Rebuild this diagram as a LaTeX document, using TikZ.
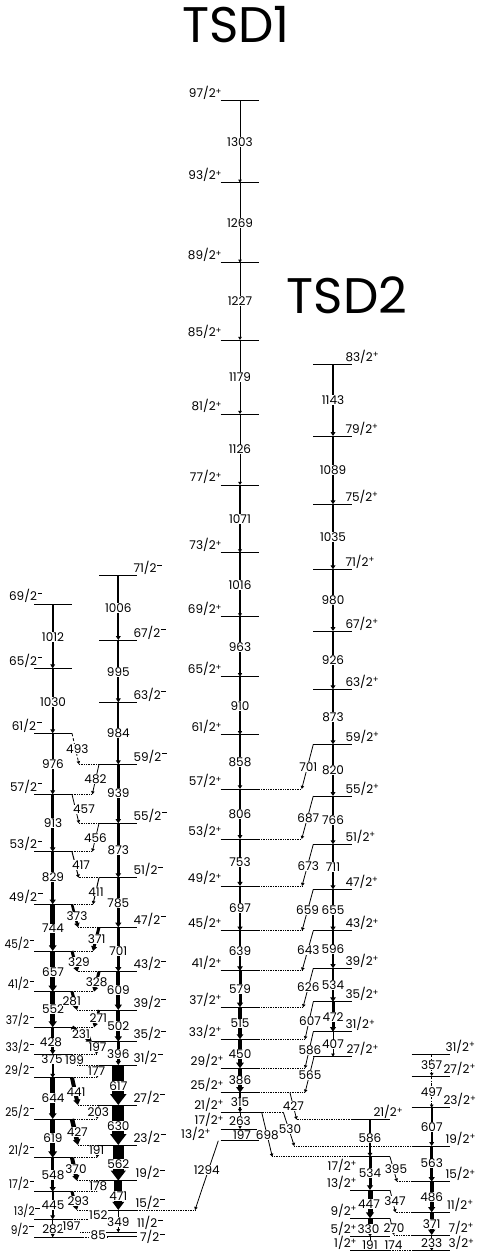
\documentclass[tikz,border=0pt]{standalone}
\usepackage{fontspec}
\setmainfont{Poppins}
\usepackage{graphicx}
\usetikzlibrary{arrows.meta}
\newcommand\Pl{\raisebox{3.6pt}{\fontsize{8.5}{8.5}\selectfont +}}
\newcommand\Mi{\hspace{0.6pt}\rule[7.2pt]{5pt}{0.8pt}}
\newcommand\cmp[1]{\scalebox{0.88}[1]{#1}}
\newcommand\lv[5]{\coordinate (#1) at (#2,#3); \draw[lev] (#4,#3) -- (#5,#3);}
\newcommand\ex[3]{\draw[ext] (#1,#3) -- (#2,#3);}
\newcommand\en[4]{\node[el] (#1) at (#2,#3) {#4};}
\begin{document}
\begin{tikzpicture}[x=1pt,y=-1pt,
  lev/.style={line width=0.8pt},
  ext/.style={line width=0.7pt, densely dotted},
  tr/.style={line width=#1, -{Triangle[length=2.5pt 0.7, width=2.5pt 1.1]}},
  el/.style={fill=white, inner sep=0.4pt, font=\fontsize{12}{12}\selectfont},
  sl/.style={inner sep=0.3pt, font=\fontsize{12}{12}\selectfont},
  ttl/.style={inner sep=0pt, font=\fontsize{50}{50}\selectfont}]
\useasboundingbox (0,0) rectangle (479,1252);
% ================= levels =================
% TSD1
\lv{T97}{240}{100.7}{220.7}{259.3}
\lv{T93}{240}{182.7}{220.7}{259.3}
\lv{T89}{240}{262.7}{220.7}{259.3}
\lv{T85}{240}{340}{220.7}{259.3}
\lv{T81}{240}{414}{220.7}{259.3}
\lv{T77}{240}{485}{220.7}{259.3}
\lv{T73}{240}{552.7}{220.7}{259.3}
\lv{T69}{240}{616.7}{220.7}{259.3}
\lv{T65}{240}{676.7}{220.7}{259.3}
\lv{T61}{240}{734.7}{220.7}{259.3}
\lv{T57}{240}{789}{220.7}{259.3}
\lv{T53}{240}{839}{220.7}{259.3}
\lv{T49}{240}{886}{220.7}{259.3}
\lv{T45}{240}{930.7}{220.7}{259.3}
\lv{T41}{240}{970.7}{220.7}{259.3}
\lv{T37}{240}{1007.3}{220.7}{259.3}
\lv{T33}{240}{1039.3}{220.7}{259.3}
\lv{T29}{240}{1068.3}{220.7}{259.3}
\lv{T25}{240}{1092.7}{220.7}{259.3}
\lv{T21}{240}{1112.3}{220.7}{261.7}
\lv{T17}{240}{1129}{220.7}{257}
\lv{T13}{240}{1140.7}{220.7}{259.3}
% TSD2
\lv{S83}{333}{364}{313.3}{351.7}
\lv{S79}{333}{436}{313.3}{351.7}
\lv{S75}{333}{504.3}{313.3}{351.7}
\lv{S71}{333}{569.3}{313.3}{351.7}
\lv{S67}{333}{631}{313.3}{351.7}
\lv{S63}{333}{689.3}{313.3}{351.7}
\lv{S59}{333}{744.3}{313.3}{351.7}
\lv{S55}{333}{796}{313.3}{351.7}
\lv{S51}{333}{844.3}{313.3}{351.7}
\lv{S47}{333}{889.3}{313.3}{351.7}
\lv{S43}{333}{930.7}{313.3}{351.7}
\lv{S39}{333}{968.3}{313.3}{351.7}
\lv{S35}{333}{1001.7}{313.3}{351.7}
\lv{S31}{333}{1031.7}{313.3}{351.7}
\lv{S27}{333}{1056.7}{313.3}{351.7}
% band R
\lv{R21}{370}{1119.5}{351.7}{390}
\lv{R17}{370}{1156.7}{350}{390}
\lv{R13}{370}{1190}{350}{390}
\lv{R9}{370}{1218.3}{350}{390}
\lv{R5}{370}{1236.5}{350}{390}
\lv{R1}{370}{1250.7}{350}{390}
% band F
\lv{F31}{431.7}{1054}{411.7}{450}
\lv{F27}{431.7}{1076}{411.7}{450}
\lv{F23}{431.7}{1107.7}{411.7}{450}
\lv{F19}{431.7}{1146}{411.7}{450}
\lv{F15}{431.7}{1181.7}{411.7}{450}
\lv{F11}{431.7}{1212.3}{411.7}{450}
\lv{F7}{431.7}{1235}{411.7}{450}
\lv{F3}{431.7}{1250.7}{411.7}{450}
% band A
\lv{A69}{52.7}{604}{34}{72}
\lv{A65}{52.7}{668.3}{34}{72}
\lv{A61}{52.7}{733.3}{34}{72}
\lv{A57}{52.7}{794.3}{34}{72}
\lv{A53}{52.7}{851.7}{34}{72}
\lv{A49}{52.7}{904.3}{34}{72}
\lv{A45}{52.7}{951}{34}{72}
\lv{A41}{52.7}{991.7}{34}{72}
\lv{A37}{52.7}{1027.3}{34}{72}
\lv{A33}{52.7}{1054.3}{34}{72}
\lv{A29}{52.7}{1077.7}{34}{72}
\lv{A25}{52.7}{1119}{34}{72}
\lv{A21}{52.7}{1157.7}{34}{72}
\lv{A17}{52.7}{1191.7}{34}{72}
\lv{A13}{52.7}{1219.3}{34}{72}
\lv{A9}{52.7}{1237.3}{34}{83}
% band B
\lv{B71}{118.3}{575.7}{99}{137}
\lv{B67}{118.3}{640}{99}{137}
\lv{B63}{118.3}{702.3}{99}{137}
\lv{B59}{118.3}{764.3}{99}{137}
\lv{B55}{118.3}{823.3}{99}{137}
\lv{B51}{118.3}{877.7}{99}{137}
\lv{B47}{118.3}{927.3}{99}{137}
\lv{B43}{118.3}{971.7}{99}{137}
\lv{B39}{118.3}{1010}{99}{137}
\lv{B35}{118.3}{1041.7}{92}{137}
\lv{B31}{118.3}{1065}{99}{137}
\lv{B27}{118.3}{1105}{99}{137}
\lv{B23}{118.3}{1145}{99}{137}
\lv{B19}{118.3}{1180.7}{99}{137}
\lv{B15}{118.3}{1210}{99}{137}
\lv{B11}{118.3}{1232.3}{107}{137}
\lv{B7}{118.3}{1236.7}{107}{137}
% ================= dotted extensions =================
\ex{259.3}{301.7}{789}
\ex{259.3}{301.7}{839}
\ex{259.3}{302}{886}
\ex{259.3}{302}{930.7}
\ex{259.3}{302}{970.7}
\ex{259.3}{303}{1007.3}
\ex{259.3}{305}{1039.3}
\ex{259.3}{305}{1068.3}
\ex{259.3}{305}{1092.7}
\ex{261.7}{283.3}{1112.3}
\ex{296.7}{351.7}{1119.5}
\ex{294.3}{411.7}{1146}
\ex{272.3}{350}{1156.7}
\ex{137}{195}{1210}
\ex{397}{411.7}{1181.7}
\ex{395.5}{411.7}{1212.3}
\ex{394}{411.7}{1235}
\ex{390}{411.7}{1250.7}
% A-B extensions
\ex{79}{99}{764.3}
\ex{72}{92.3}{794.3}
\ex{79}{99}{823.3}
\ex{72}{92.3}{851.7}
\ex{78.7}{99}{877.7}
\ex{72}{93}{904.3}
\ex{78}{99}{927.3}
\ex{72}{93}{951}
\ex{77.5}{99}{971.7}
\ex{72}{94}{991.7}
\ex{77}{99}{1010}
\ex{72}{94}{1027.3}
\ex{72}{96}{1054.3}
\ex{77}{99}{1065}
\ex{72}{97}{1077.7}
\ex{78}{99}{1105}
\ex{72}{97}{1119}
\ex{78}{99}{1145}
\ex{72}{97}{1157.7}
\ex{77}{99}{1180.7}
\ex{72}{97}{1191.7}
\ex{77}{99}{1210}
\ex{72}{97}{1219.3}
\ex{80}{107}{1232.3}
\ex{83}{107}{1236.9}
% ================= transitions =================
% TSD1
\draw[tr=0.8pt] (T97) -- (T93);
\draw[tr=0.8pt] (T93) -- (T89);
\draw[tr=0.9pt] (T89) -- (T85);
\draw[tr=1pt] (T85) -- (T81);
\draw[tr=1pt] (T81) -- (T77);
\draw[tr=1.2pt] (T77) -- (T73);
\draw[tr=1.2pt] (T73) -- (T69);
\draw[tr=1.4pt] (T69) -- (T65);
\draw[tr=1.5pt] (T65) -- (T61);
\draw[tr=1.6pt] (T61) -- (T57);
\draw[tr=1.8pt] (T57) -- (T53);
\draw[tr=2.2pt] (T53) -- (T49);
\draw[tr=2.4pt] (T49) -- (T45);
\draw[tr=2.8pt] (T45) -- (T41);
\draw[tr=3pt] (T41) -- (T37);
\draw[tr=3.5pt] (T37) -- (T33);
\draw[tr=4.5pt] (T33) -- (T29);
\draw[tr=4.5pt] (T29) -- (T25);
\draw[tr=1.2pt] (T25) -- (T21);
\draw[tr=0.8pt] (T21) -- (T17);
\draw[tr=0.6pt] (T17) -- (T13);
% TSD2
\draw[tr=2pt] (S83) -- (S79);
\draw[tr=2pt] (S79) -- (S75);
\draw[tr=2pt] (S75) -- (S71);
\draw[tr=2pt] (S71) -- (S67);
\draw[tr=2pt] (S67) -- (S63);
\draw[tr=2pt] (S63) -- (S59);
\draw[tr=2pt] (S59) -- (S55);
\draw[tr=2pt] (S55) -- (S51);
\draw[tr=2.2pt] (S51) -- (S47);
\draw[tr=2.4pt] (S47) -- (S43);
\draw[tr=2.4pt] (S43) -- (S39);
\draw[tr=2.6pt] (S39) -- (S35);
\draw[tr=3pt] (S35) -- (S31);
\draw[tr=1pt] (S31) -- (S27);
% TSD2 -> TSD1
\draw[tr=0.8pt] (313.3,744.3) -- (301.7,789);
\draw[tr=0.8pt] (313.3,796) -- (301.7,839);
\draw[tr=0.8pt] (313.3,844.3) -- (302,886);
\draw[tr=0.8pt] (313.3,889.3) -- (302,930.7);
\draw[tr=0.8pt] (313.3,930.7) -- (302,970.7);
\draw[tr=0.8pt] (313.3,968.3) -- (303,1007.3);
\draw[tr=0.8pt] (313.3,1001.7) -- (305,1039.3);
\draw[tr=0.8pt] (313.3,1031.7) -- (305,1068.3);
\draw[tr=0.8pt] (314,1056.7) -- (305,1092.7);
% TSD1 -> R, F, B
\draw[tr=0.8pt] (290,1092.7) -- (296.7,1119.5);
\draw[tr=0.8pt] (283.3,1112.3) -- (294.3,1146);
\draw[tr=0.8pt] (261.7,1112.3) -- (272.3,1156.7);
\draw[tr=0.8pt] (218.3,1140.7) -- (195,1210);
% R band
\draw[tr=1.8pt] (R21) -- (R17);
\draw[tr=3pt] (R17) -- (R13);
\draw[tr=5pt] (R13) -- (R9);
\draw[tr=5pt] (R9) -- (R5);
\draw[tr=0.8pt] (R5) -- (R1);
\draw[tr=0.8pt] (390,1156.7) -- (397,1181.7);
\draw[tr=0.8pt] (390,1190) -- (395.5,1212.3);
\draw[tr=0.8pt] (390,1218.3) -- (394,1235);
% F band
\draw[tr=0.8pt, dash pattern=on 3pt off 1.5pt on 0.8pt off 1.5pt] (F31) -- (F27);
\draw[tr=1pt, dash pattern=on 3pt off 1.5pt on 0.8pt off 1.5pt] (F27) -- (F23);
\draw[tr=2pt] (F23) -- (F19);
\draw[tr=3pt] (F19) -- (F15);
\draw[tr=4pt] (F15) -- (F11);
\draw[tr=4pt] (F11) -- (F7);
\draw[tr=1pt] (F7) -- (F3);
% band A
\draw[tr=2pt] (A69) -- (A65);
\draw[tr=2pt] (A65) -- (A61);
\draw[tr=2pt] (A61) -- (A57);
\draw[tr=2.5pt] (A57) -- (A53);
\draw[tr=3pt] (A53) -- (A49);
\draw[tr=4.5pt] (A49) -- (A45);
\draw[tr=5pt] (A45) -- (A41);
\draw[tr=5pt] (A41) -- (A37);
\draw[tr=2.5pt] (A37) -- (A33);
\draw[tr=2pt] (A33) -- (A29);
\draw[tr=4.5pt] (A29) -- (A25);
\draw[tr=5.5pt] (A25) -- (A21);
\draw[tr=3pt] (A21) -- (A17);
\draw[tr=2pt] (A17) -- (A13);
\draw[tr=1pt] (A13) -- (A9);
% band B
\draw[tr=2pt] (B71) -- (B67);
\draw[tr=2pt] (B67) -- (B63);
\draw[tr=2pt] (B63) -- (B59);
\draw[tr=2.5pt] (B59) -- (B55);
\draw[tr=2.5pt] (B55) -- (B51);
\draw[tr=3pt] (B51) -- (B47);
\draw[tr=3pt] (B47) -- (B43);
\draw[tr=4pt] (B43) -- (B39);
\draw[tr=4pt] (B39) -- (B35);
\draw[tr=2.5pt] (B35) -- (B31);
\draw[tr=12pt] (B31) -- (B27);
\draw[tr=12pt] (B27) -- (B23);
\draw[tr=11pt] (B23) -- (B19);
\draw[tr=8pt] (B19) -- (B15);
\draw[tr=1pt] (B15) -- (B11);
% A <-> B
\draw[tr=0.8pt, densely dashed] (72,733.3) -- (79,764.3);
\draw[tr=0.8pt] (99,764.3) -- (92.3,794.3);
\draw[tr=0.8pt] (72,794.3) -- (79,823.3);
\draw[tr=0.8pt] (99,823.3) -- (92.3,851.7);
\draw[tr=1pt] (72,851.7) -- (78.7,877.7);
\draw[tr=1pt] (99,877.7) -- (93,904.3);
\draw[tr=2.5pt] (72,904.3) -- (78,927.3);
\draw[tr=3pt] (99,927.3) -- (93,951);
\draw[tr=3pt] (72,951) -- (77.5,971.7);
\draw[tr=3pt] (99,971.7) -- (94,991.7);
\draw[tr=3pt] (72,991.7) -- (77,1010);
\draw[tr=2.5pt] (99,1010) -- (94,1027.3);
\draw[tr=4pt] (72,1027.3) -- (92,1041.7);
\draw[tr=0.8pt] (99,1041.7) -- (96,1054.3);
\draw[tr=0.8pt] (72,1054.3) -- (77,1065);
\draw[tr=0.8pt] (99,1065) -- (97,1077.7);
\draw[tr=4pt] (72,1077.7) -- (78,1105);
\draw[tr=0.8pt] (99,1105) -- (97,1119);
\draw[tr=4.5pt] (72,1119) -- (78,1145);
\draw[tr=0.8pt] (99,1145) -- (97,1157.7);
\draw[tr=4pt] (72,1157.7) -- (77,1180.7);
\draw[tr=0.8pt] (99,1180.7) -- (97,1191.7);
\draw[tr=3pt] (72,1191.7) -- (77,1210);
\draw[tr=0.8pt] (99,1210) -- (97,1219.3);
% ================= energy labels =================
\en{e1303}{240}{141.7}{1303}
\en{e1269}{240}{222.7}{1269}
\en{e1227}{240}{301.3}{1227}
\en{e1179}{240}{377}{1179}
\en{e1126}{240}{449.5}{1126}
\en{e1071}{240}{518.8}{1071}
\en{e1016}{240}{584.7}{1016}
\en{e963}{240}{646.7}{963}
\en{e910}{240}{705.7}{910}
\en{e858}{240}{761.8}{858}
\en{e806}{240}{814}{806}
\en{e753}{240}{862.5}{753}
\en{e697}{240}{908.3}{697}
\en{e639}{240}{950.7}{639}
\en{e579}{240}{989}{579}
\en{e515}{240}{1023.3}{515}
\en{e450}{240}{1053.8}{450}
\en{e386}{240}{1080.5}{386}
\en{e315}{240}{1102.5}{315}
\en{e263}{240}{1120.7}{263}
\en{e197t}{242}{1135}{197}
\en{e1143}{333}{400}{1143}
\en{e1089}{333}{470}{1089}
\en{e1035}{333}{536.8}{1035}
\en{e980}{333}{600.2}{980}
\en{e926}{333}{660.2}{926}
\en{e873s}{333}{716.8}{873}
\en{e820}{333}{770.2}{820}
\en{e766}{333}{820.2}{766}
\en{e711}{333}{866.8}{711}
\en{e655}{333}{910}{655}
\en{e596}{333}{949.5}{596}
\en{e534s}{333}{985}{534}
\en{e472}{333}{1016.7}{472}
\en{e407}{333}{1044.5}{407}
\en{e701s}{308.3}{766.7}{701}
\en{e687}{308.3}{818.3}{687}
\en{e673}{308.3}{865.7}{673}
\en{e659}{307.5}{910}{659}
\en{e643}{308.3}{950}{643}
\en{e626}{308.3}{987.3}{626}
\en{e607s}{310}{1021}{607}
\en{e586s}{310}{1050}{586}
\en{e565}{310}{1075}{565}
\en{e427t}{293.3}{1106}{427}
\en{e530}{290}{1129.3}{530}
\en{e698}{267.3}{1135}{698}
\en{e1294}{206.7}{1170}{1294}
\en{e586r}{370}{1138.3}{586}
\en{e534r}{370}{1173.3}{534}
\en{e447}{369}{1204}{447}
\en{e330}{368.5}{1229}{330}
\en{e191r}{370}{1245}{191}
\en{e395}{396}{1169}{395}
\en{e347}{395}{1201}{347}
\en{e270}{394}{1228.5}{270}
\en{e174}{393.5}{1245}{174}
\en{e357}{431.7}{1065}{357}
\en{e497}{431.7}{1092}{497}
\en{e607f}{431.7}{1127.3}{607}
\en{e563}{431.7}{1163.5}{563}
\en{e486}{431.7}{1197}{486}
\en{e371f}{431.7}{1223.7}{371}
\en{e233}{431.7}{1243}{233}
% A
\en{e1012}{53}{637}{1012}
\en{e1030}{53}{701.7}{1030}
\en{e976}{53}{764}{976}
\en{e913}{53}{823.3}{913}
\en{e829}{53}{876.7}{829}
\en{e744}{53}{928.3}{744}
\en{e657}{53}{971.7}{657}
\en{e552}{53}{1009.3}{552}
\en{e428a}{51}{1042.5}{428}
\en{e375}{52}{1059.5}{375}
\en{e644}{53}{1098.3}{644}
\en{e619}{53}{1138.3}{619}
\en{e548}{53}{1175}{548}
\en{e445}{53}{1205}{445}
\en{e282}{53}{1229.3}{282}
% B
\en{e1006}{118.3}{608.3}{1006}
\en{e995}{118.3}{671.7}{995}
\en{e984}{118.3}{733.3}{984}
\en{e939}{118.3}{793.3}{939}
\en{e873b}{118.3}{850}{873}
\en{e785}{118.3}{903.3}{785}
\en{e701b}{118.3}{950.7}{701}
\en{e609}{118.3}{990}{609}
\en{e502}{118.3}{1026}{502}
\en{e396}{118.3}{1054}{396}
\en{e617}{118.3}{1086}{617}
\en{e630}{118.3}{1126}{630}
\en{e562}{118.3}{1164}{562}
\en{e471}{118.3}{1196}{471}
\en{e349}{118.3}{1221.7}{349}
% A<->B
\en{e493}{77.3}{749}{493}
\en{e482}{95.5}{779.3}{482}
\en{e457}{84}{809.3}{457}
\en{e456}{95.5}{838.3}{456}
\en{e417}{81}{865}{417}
\en{e411}{96}{891.7}{411}
\en{e373}{77}{916.5}{373}
\en{e371b}{96.7}{939.3}{371}
\en{e329}{79}{961.7}{329}
\en{e328}{96.7}{981.7}{328}
\en{e281}{71.7}{1001.5}{281}
\en{e271}{98.3}{1018.3}{271}
\en{e231}{81}{1033.7}{231}
\en{e197b}{97.5}{1047.5}{197}
\en{e199}{74.5}{1060}{199}
\en{e177}{96.7}{1071.5}{177}
\en{e441}{76}{1091.7}{441}
\en{e203}{98.3}{1111.7}{203}
\en{e427b}{77.3}{1131.7}{427}
\en{e191b}{96.7}{1150.5}{191}
\en{e370}{76}{1169}{370}
\en{e178}{98.3}{1186.5}{178}
\en{e293}{78.3}{1201}{293}
\en{e152}{98.3}{1214.8}{152}
\en{e197c}{71.5}{1226}{197}
\en{e85}{98.3}{1235.5}{85}
% ================= spin labels =================
\node[sl,anchor=south east] (sT97) at (222,100.2) {97/2\Pl};
\node[sl,anchor=south east] (sT93) at (222,182.2) {93/2\Pl};
\node[sl,anchor=south east] (sT89) at (222,262.2) {89/2\Pl};
\node[sl,anchor=south east] (sT85) at (222,339.5) {85/2\Pl};
\node[sl,anchor=south east] (sT81) at (222,413.5) {81/2\Pl};
\node[sl,anchor=south east] (sT77) at (222,484.5) {77/2\Pl};
\node[sl,anchor=south east] (sT73) at (222,552.2) {73/2\Pl};
\node[sl,anchor=south east] (sT69) at (222,616.2) {69/2\Pl};
\node[sl,anchor=south east] (sT65) at (222,676.2) {65/2\Pl};
\node[sl,anchor=south east] (sT61) at (222,734.2) {61/2\Pl};
\node[sl,anchor=south east] (sT57) at (222,788.5) {57/2\Pl};
\node[sl,anchor=south east] (sT53) at (222,838.5) {53/2\Pl};
\node[sl,anchor=south east] (sT49) at (222,885.5) {49/2\Pl};
\node[sl,anchor=south east] (sT45) at (222,930.2) {45/2\Pl};
\node[sl,anchor=south east] (sT41) at (222,970.2) {41/2\Pl};
\node[sl,anchor=south east] (sT37) at (222,1006.8) {37/2\Pl};
\node[sl,anchor=south east] (sT33) at (222,1038.8) {33/2\Pl};
\node[sl,anchor=south east] (sT29) at (224,1067.8) {29/2\Pl};
\node[sl,anchor=south east] (sT25) at (224,1092.2) {25/2\Pl};
\node[sl,anchor=south east] (sT21) at (224,1111.8) {21/2\Pl};
\node[sl,anchor=south east] (sT17) at (224,1127.5) {17/2\Pl};
\node[sl,anchor=south east] (sT13) at (211,1141) {13/2\Pl};
\node[sl,anchor=south west] (sS83) at (345,363.7) {83/2\Pl};
\node[sl,anchor=south west] (sS79) at (345,435.7) {79/2\Pl};
\node[sl,anchor=south west] (sS75) at (345,504) {75/2\Pl};
\node[sl,anchor=south west] (sS71) at (345,569) {71/2\Pl};
\node[sl,anchor=south west] (sS67) at (345,630.7) {67/2\Pl};
\node[sl,anchor=south west] (sS63) at (345,689) {63/2\Pl};
\node[sl,anchor=south west] (sS59) at (345,744) {59/2\Pl};
\node[sl,anchor=south west] (sS55) at (345,795.7) {55/2\Pl};
\node[sl,anchor=south west] (sS51) at (345,844) {51/2\Pl};
\node[sl,anchor=south west] (sS47) at (345,889) {47/2\Pl};
\node[sl,anchor=south west] (sS43) at (345,930.4) {43/2\Pl};
\node[sl,anchor=south west] (sS39) at (345,968) {39/2\Pl};
\node[sl,anchor=south west] (sS35) at (345,1001.4) {35/2\Pl};
\node[sl,anchor=south west] (sS31) at (345,1031.4) {31/2\Pl};
\node[sl,anchor=south west] (sS27) at (346,1056.4) {27/2\Pl};
\node[sl,anchor=south west] (sR21) at (373,1119.2) {21/2\Pl};
\node[sl,anchor=north east] (sR17) at (357,1158.5) {17/2\Pl};
\node[sl,anchor=south east] (sR13) at (357,1189.7) {13/2\Pl};
\node[sl,anchor=south east] (sR9) at (357,1218) {9/2\Pl};
\node[sl,anchor=south east] (sR5) at (357,1236.2) {5/2\Pl};
\node[sl,anchor=south east] (sR1) at (357,1250.5) {1/2\Pl};
\node[sl,anchor=south west] (sF31) at (445,1053.7) {31/2\Pl};
\node[sl,anchor=south west] (sF27) at (443,1075.7) {27/2\Pl};
\node[sl,anchor=south west] (sF23) at (443,1107.4) {23/2\Pl};
\node[sl,anchor=south west] (sF19) at (445,1145.7) {19/2\Pl};
\node[sl,anchor=south west] (sF15) at (445,1181.4) {15/2\Pl};
\node[sl,anchor=south west] (sF11) at (446.5,1212) {11/2\Pl};
\node[sl,anchor=south west] (sF7) at (448,1234.7) {7/2\Pl};
\node[sl,anchor=south west] (sF3) at (448,1250.4) {3/2\Pl};
% A spin labels
\node[sl,anchor=south east] (sA69) at (43,603.5) {69/2\Mi};
\node[sl,anchor=south east] (sA65) at (43,667.8) {65/2\Mi};
\node[sl,anchor=south east] (sA61) at (42,732.8) {61/2\Mi};
\node[sl,anchor=south east] (sA57) at (43,793.8) {57/2\Mi};
\node[sl,anchor=south east] (sA53) at (43,851.2) {53/2\Mi};
\node[sl,anchor=south east] (sA49) at (43,903.8) {49/2\Mi};
\node[sl,anchor=south east] (sA45) at (34.5,950.8) {\cmp{45/2\Mi}};
\node[sl,anchor=south east] (sA41) at (34.5,991.5) {\cmp{41/2\Mi}};
\node[sl,anchor=south east] (sA37) at (34.5,1027.1) {\cmp{37/2\Mi}};
\node[sl,anchor=south east] (sA33) at (34.5,1054.1) {\cmp{33/2\Mi}};
\node[sl,anchor=south east] (sA29) at (34.5,1077.5) {\cmp{29/2\Mi}};
\node[sl,anchor=south east] (sA25) at (34.5,1118.8) {\cmp{25/2\Mi}};
\node[sl,anchor=south east] (sA21) at (34.5,1157.5) {\cmp{21/2\Mi}};
\node[sl,anchor=south east] (sA17) at (34.5,1191.5) {\cmp{17/2\Mi}};
\node[sl,anchor=south east] (sA13) at (40,1218.5) {\cmp{13/2\Mi}};
\node[sl,anchor=south east] (sA9) at (34,1237) {\cmp{9/2\Mi}};
% B spin labels
\node[sl,anchor=south west] (sB71) at (133,575.4) {71/2\Mi};
\node[sl,anchor=south west] (sB67) at (133,639.7) {67/2\Mi};
\node[sl,anchor=south west] (sB63) at (133,702) {63/2\Mi};
\node[sl,anchor=south west] (sB59) at (133,764) {59/2\Mi};
\node[sl,anchor=south west] (sB55) at (133,823) {55/2\Mi};
\node[sl,anchor=south west] (sB51) at (133,877.4) {51/2\Mi};
\node[sl,anchor=south west] (sB47) at (133,927) {47/2\Mi};
\node[sl,anchor=south west] (sB43) at (133,971.4) {43/2\Mi};
\node[sl,anchor=south west] (sB39) at (133,1009.7) {39/2\Mi};
\node[sl,anchor=south west] (sB35) at (133,1041.4) {35/2\Mi};
\node[sl,anchor=south west] (sB31) at (133,1064.7) {31/2\Mi};
\node[sl,anchor=south west] (sB27) at (133,1104.7) {27/2\Mi};
\node[sl,anchor=south west] (sB23) at (133,1144.7) {23/2\Mi};
\node[sl,anchor=south west] (sB19) at (135,1180.4) {19/2\Mi};
\node[sl,anchor=south west] (sB15) at (135,1209.7) {15/2\Mi};
\node[sl,anchor=south west] (sB11) at (136.5,1230.5) {11/2\Mi};
\node[sl,anchor=west] (sB7) at (139.5,1237) {7/2\Mi};
% ================= titles =================
\node[ttl] (title1) at (236,24.5) {TSD1};
\node[ttl] (title2) at (347,295.5) {TSD2};
\end{tikzpicture}
\end{document}
